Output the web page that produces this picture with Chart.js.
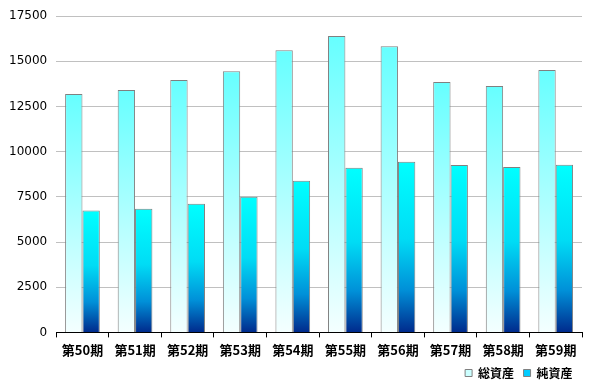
<!DOCTYPE html>
<html>
<head>
<meta charset="utf-8">
<script src="https://cdn.jsdelivr.net/npm/chart.js@4/dist/chart.umd.min.js"></script>
<style>
  html, body { margin: 0; padding: 0; background: #fff; }
  #wrap { width: 592px; height: 389px; }
</style>
</head>
<body>
<div id="wrap"><canvas id="chart_assets"></canvas></div>
<script>
// Data
const periods = ['第50期', '第51期', '第52期', '第53期', '第54期', '第55期', '第56期', '第57期', '第58期', '第59期'];
const totalAssets = [13200, 13420, 13970, 14460, 15620, 16400, 15840, 13860, 13640, 14520];
const netAssets = [6740, 6850, 7120, 7510, 8390, 9110, 9440, 9270, 9160, 9280];
const yTicks = [0, 2500, 5000, 7500, 10000, 12500, 15000, 17500];

// per-bar vertical gradient, built from the bar's own value
function barGradient(stops) {
  return function(context) {
    const chart = context.chart;
    if (!chart.chartArea || context.raw === undefined) return stops[0][1];
    const y = chart.scales.y;
    const top = y.getPixelForValue(context.raw);
    const bottom = y.getPixelForValue(0);
    const g = chart.ctx.createLinearGradient(0, top, 0, bottom);
    stops.forEach(s => g.addColorStop(s[0], s[1]));
    return g;
  };
}

const totalStops = [[0, '#66ffff'], [1, '#f4ffff']];
const netStops = [[0, '#00ffff'], [0.45, '#00dcf5'], [0.75, '#0090d8'], [1, '#002a8c']];

const ctx = document.getElementById('chart_assets').getContext('2d');
new Chart(ctx, {
  type: 'bar',
  data: {
    labels: periods,
    datasets: [
      {
        label: '総資産',
        data: totalAssets,
        backgroundColor: barGradient(totalStops),
        borderColor: '#808080',
        borderWidth: 1,
        legendColor: '#ccffff'
      },
      {
        label: '純資産',
        data: netAssets,
        backgroundColor: barGradient(netStops),
        borderColor: '#808080',
        borderWidth: 1,
        legendColor: '#00ccff'
      }
    ]
  },
  options: {
    responsive: true,
    maintainAspectRatio: false,
    animation: false,
    layout: { padding: { top: 0, right: 10, left: 0, bottom: 0 } },
    datasets: {
      bar: { categoryPercentage: 0.66, barPercentage: 1.0 }
    },
    plugins: {
      legend: {
        position: 'bottom',
        align: 'end',
        labels: {
          boxWidth: 7,
          boxHeight: 7,
          padding: 4,
          color: '#000',
          font: { family: '"Noto Sans CJK JP"', size: 12, weight: 'bold' },
          // trailing spaces widen the gap between the two items
          generateLabels: function(chart) {
            return chart.data.datasets.map((ds, i) => ({
              text: ds.label + '  ',
              fillStyle: ds.legendColor,
              strokeStyle: '#808080',
              lineWidth: 1,
              datasetIndex: i
            }));
          }
        }
      },
      tooltip: { enabled: false }
    },
    scales: {
      x: {
        grid: {
          offset: true,
          drawOnChartArea: false,
          drawTicks: true,
          tickLength: 5,
          color: '#000'
        },
        border: { display: true, color: '#000', width: 1 },
        ticks: {
          color: '#000',
          padding: 5,
          font: { family: '"Noto Sans CJK JP"', size: 13, weight: 'bold' }
        }
      },
      y: {
        min: 0,
        max: 17500,
        afterBuildTicks: function(axis) {
          axis.ticks = yTicks.map(v => ({ value: v }));
        },
        grid: { color: '#c0c0c0', drawTicks: false },
        border: { display: false },
        ticks: {
          color: '#000',
          padding: 9,
          font: { family: '"DejaVu Sans"', size: 12 },
          callback: function(value) { return String(value); }
        }
      }
    }
  }
});
</script>
</body>
</html>
